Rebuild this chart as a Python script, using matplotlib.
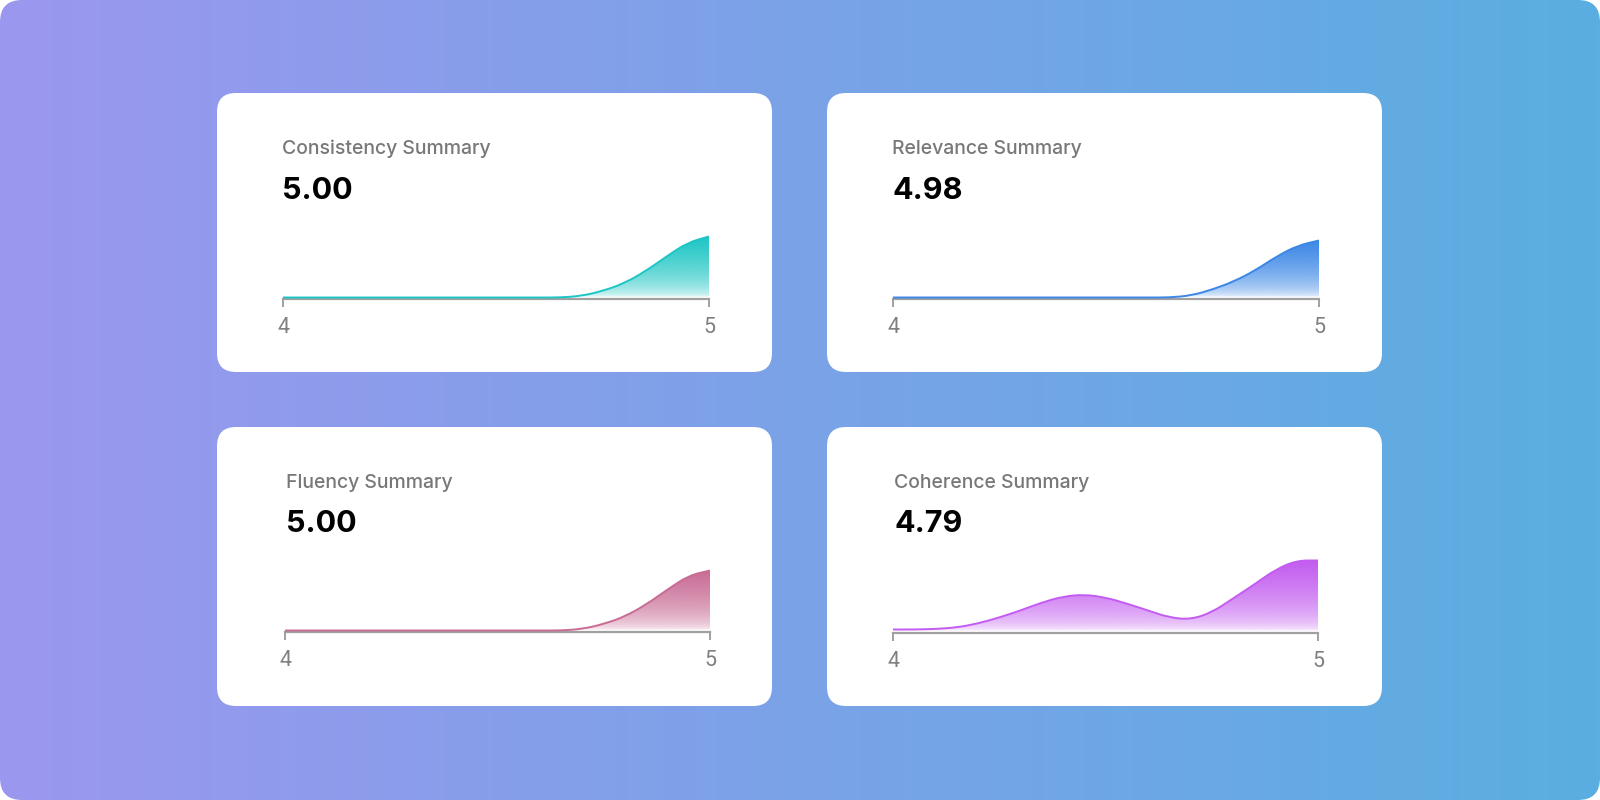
import numpy as np
import matplotlib
matplotlib.use("Agg")
import matplotlib.pyplot as plt
from matplotlib.patches import FancyBboxPatch
from matplotlib.path import Path
from matplotlib.patches import PathPatch
from matplotlib.colors import to_rgb

# score grid (x) shared by every card
score_grid = [4.00, 4.05, 4.10, 4.15, 4.20, 4.25, 4.30, 4.35, 4.40, 4.45, 4.50,
              4.55, 4.60, 4.65, 4.70, 4.75, 4.80, 4.85, 4.90, 4.95, 5.00]

titles = ["Consistency Summary", "Relevance Summary", "Fluency Summary", "Coherence Summary"]
means = ["5.00", "4.98", "5.00", "4.79"]

# density (arbitrary units)
consistency = [0, 0, 0, 0, 0, 0, 0, 0, 0, 0, 0, 0, 0, 0, 1.5, 6.5, 14, 26, 41, 55, 61]
relevance = [0, 0, 0, 0, 0, 0, 0, 0, 0, 0, 0, 0, 0, 0, 2, 8, 16, 27, 41, 52, 57]
fluency = [0, 0, 0, 0, 0, 0, 0, 0, 0, 0, 0, 0, 0, 0, 1.5, 6.5, 14, 26, 41, 55, 60]
coherence = [2, 2, 2.5, 4, 8, 14, 21, 29, 35, 37, 34, 28, 21, 14, 12, 19, 33, 47, 62, 71, 71]
densities = [consistency, relevance, fluency, coherence]

colors = ["#1dc6c4", "#3b87e6", "#c96c95", "#c35cf0"]

# layout in pixels (figure is 1600 x 800)
W, H = 1600, 800
cards = [(217, 93), (827, 93), (217, 427), (827, 427)]
card_w, card_h = 555, 279
axis_x = [(283, 709), (893, 1319), (285, 710), (893, 1318)]
axis_y = [299, 299, 632, 633]
text_x = [282, 892, 286, 894]
title_y = [149, 149, 483, 483]
value_y = [191, 191, 524, 524]

fig = plt.figure(figsize=(16, 8), dpi=100, facecolor="white")

# background gradient, rounded corners
bg = fig.add_axes([0, 0, 1, 1])
bg.set_xlim(0, W)
bg.set_ylim(H, 0)
bg.axis("off")
c_left = np.array(to_rgb("#9b97ef"))
c_right = np.array(to_rgb("#5aaee0"))
t = np.linspace(0, 1, 400)[None, :, None]
grad = c_left * (1 - t) + c_right * t
grad = np.repeat(grad, 2, axis=0)
im = bg.imshow(grad, extent=(0, W, H, 0), aspect="auto", zorder=0)
frame = FancyBboxPatch((0, 0), W, H, boxstyle="round,pad=0,rounding_size=22",
                       transform=bg.transData, facecolor="none", edgecolor="none")
bg.add_patch(frame)
im.set_clip_path(frame)

for i in range(4):
    cx, cy = cards[i]
    bg.add_patch(FancyBboxPatch((cx, cy), card_w, card_h,
                                boxstyle="round,pad=0,rounding_size=19",
                                facecolor="white", edgecolor="none", zorder=2))
    bg.text(text_x[i], title_y[i], titles[i], fontsize=14, color="#787878",
            family="Inter", fontweight="medium", va="center", ha="left", zorder=3)
    bg.text(text_x[i], value_y[i], means[i], fontsize=22, color="black",
            family="Inter", fontweight="bold", va="center", ha="left", zorder=3)

    x0, x1 = axis_x[i]
    base = axis_y[i]
    ax_h = 80
    ax = fig.add_axes([x0 / W, (H - base) / H, (x1 - x0) / W, ax_h / H])
    ax.patch.set_alpha(0)
    ax.set_xlim(4, 5)
    ax.set_ylim(-1.5, ax_h - 1.5)

    xs = np.array(score_grid)
    ys = np.array(densities[i], dtype=float)
    pts = np.column_stack([xs, ys])
    mids = (pts[:-1] + pts[1:]) / 2
    verts = [pts[0], mids[0]]
    codes = [Path.MOVETO, Path.LINETO]
    for k in range(1, len(pts) - 1):
        verts += [pts[k], mids[k]]
        codes += [Path.CURVE3, Path.CURVE3]
    verts.append(pts[-1])
    codes.append(Path.LINETO)
    line_path = Path(verts, codes)

    fill_verts = verts + [(5, 0), (4, 0), (4, 0)]
    fill_codes = codes + [Path.LINETO, Path.LINETO, Path.CLOSEPOLY]
    fill_patch = PathPatch(Path(fill_verts, fill_codes), facecolor="none",
                           edgecolor="none")
    ax.add_patch(fill_patch)

    # vertical colour -> white gradient under the curve
    rgb = np.array(to_rgb(colors[i]))
    a = np.linspace(1, 0.0, 256)
    g = np.ones((256, 2, 4))
    g[..., :3] = rgb
    g[..., 3] = (a ** 0.45)[:, None]
    gim = ax.imshow(g, extent=(4, 5, 0, ys.max()), aspect="auto", zorder=1,
                    origin="upper")
    gim.set_clip_path(fill_patch)
    ax.add_patch(PathPatch(line_path, facecolor="none", edgecolor=colors[i],
                           lw=1.4, zorder=3, capstyle="butt"))

    for s in ["top", "right", "left"]:
        ax.spines[s].set_visible(False)
    ax.spines["bottom"].set_color("#a0a0a0")
    ax.spines["bottom"].set_linewidth(1.6)
    ax.set_yticks([])
    ax.set_xticks([4, 5])
    ax.set_xticklabels(["4", "5"])
    ax.tick_params(axis="x", length=6, width=1.4, color="#a0a0a0", pad=7,
                   labelsize=15.5, labelcolor="#808080")
    for lab in ax.get_xticklabels():
        lab.set_family("Roboto")
        lab.set_fontweight("normal")

fig.savefig("out.png", dpi=100, facecolor="white")
